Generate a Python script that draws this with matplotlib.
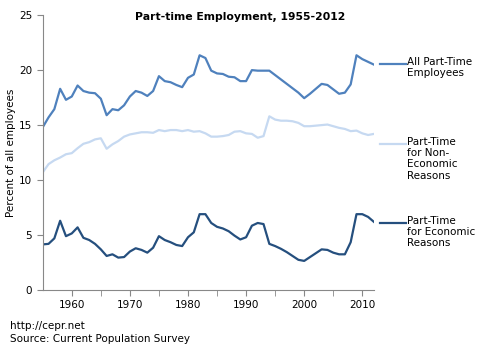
import numpy as np
import matplotlib
matplotlib.use('Agg')
import matplotlib.pyplot as plt

years = list(range(1955, 2013))

all_part_time = [
    14.8, 15.7, 16.45, 18.3, 17.3, 17.6, 18.6, 18.1, 17.95, 17.9,
    17.4, 15.9, 16.45, 16.35, 16.8, 17.6, 18.1, 17.95, 17.65, 18.1,
    19.45, 19.0, 18.9, 18.65, 18.45, 19.3, 19.6, 21.35, 21.1, 19.95,
    19.7, 19.65, 19.4, 19.35, 19.0, 19.0, 20.0, 19.95, 19.95, 19.95,
    19.55, 19.15, 18.75, 18.35, 17.95, 17.45, 17.85, 18.3, 18.75, 18.65,
    18.25, 17.85, 17.95, 18.7, 21.35, 21.0, 20.75, 20.5,
]
non_economic = [
    10.7, 11.45, 11.8, 12.05, 12.35, 12.45, 12.9, 13.3, 13.45, 13.7,
    13.8, 12.85, 13.25, 13.55, 13.95, 14.15, 14.25, 14.35, 14.35, 14.3,
    14.55, 14.45, 14.55, 14.55, 14.45, 14.55, 14.4, 14.45, 14.25, 13.95,
    13.95, 14.0, 14.1, 14.4, 14.45, 14.25, 14.2, 13.85, 14.0, 15.8,
    15.5, 15.4, 15.4, 15.35, 15.2, 14.9, 14.9, 14.95, 15.0, 15.05,
    14.9, 14.75, 14.65, 14.45, 14.5, 14.25, 14.1, 14.2,
]
economic = [
    4.15, 4.2, 4.7, 6.3, 4.9, 5.15, 5.7, 4.75, 4.55, 4.2,
    3.7, 3.1, 3.25, 2.95, 3.0, 3.5, 3.8, 3.65, 3.4, 3.85,
    4.9, 4.55, 4.35, 4.1, 4.0, 4.8, 5.25, 6.9, 6.9, 6.1,
    5.75, 5.6, 5.35, 4.95, 4.6, 4.8, 5.85, 6.1, 6.0, 4.2,
    4.0, 3.75, 3.45, 3.1, 2.75, 2.65, 3.0, 3.35, 3.7, 3.65,
    3.4, 3.25, 3.25, 4.35, 6.9, 6.9, 6.65, 6.2,
]

series = [
    (all_part_time, "All Part-Time\nEmployees", "#4f81bd"),
    (non_economic, "Part-Time\nfor Non-\nEconomic\nReasons", "#c6d9f1"),
    (economic, "Part-Time\nfor Economic\nReasons", "#254f7e"),
]

plt.rcParams['font.family'] = ['DejaVu Sans']
fig = plt.figure(figsize=(4.8, 3.52), dpi=100)
ax = fig.add_axes([0.089, 0.176, 0.69, 0.781])

for values, label, color in series:
    ax.plot(years, values, color=color, linewidth=1.6, solid_joinstyle='round')

ax.set_xlim(1955, 2012)
ax.set_ylim(0, 25)
ax.set_yticks([0, 5, 10, 15, 20, 25])
ax.set_xticks(range(1960, 2011, 10))
ax.set_xticks(range(1960, 2011, 5), minor=True)
for side in ['top', 'right']:
    ax.spines[side].set_visible(False)
for side in ['left', 'bottom']:
    ax.spines[side].set_color('#888888')
ax.tick_params(axis='both', which='both', colors='#888888', labelcolor='black',
               labelsize=7.5, direction='out', length=4)
ax.set_ylabel("Percent of all employees", fontsize=7.5, labelpad=2)

# legend drawn as labelled segments to the right of the plot
legend_y = [64, 144, 223]
for (values, label, color), ypix in zip(series, legend_y):
    yf = 1 - ypix / 352
    fig.add_artist(plt.Line2D([380 / 480, 406 / 480], [yf, yf], color=color,
                              linewidth=1.6, transform=fig.transFigure))
    fig.text(407 / 480, yf + 7 / 352, label, fontsize=7.5, va='top', ha='left',
             linespacing=1.15)

ax.set_title("Part-time Employment, 1955-2012", fontsize=7.8, fontweight='bold',
             x=0.596, y=0.945, va='bottom')
fig.text(10 / 480, 1 - 326 / 352, "http://cepr.net", fontsize=7.5, va='center')
fig.text(10 / 480, 1 - 339 / 352, "Source: Current Population Survey", fontsize=7.5,
         va='center')

fig.savefig('out.png', dpi=100)
plt.close(fig)
